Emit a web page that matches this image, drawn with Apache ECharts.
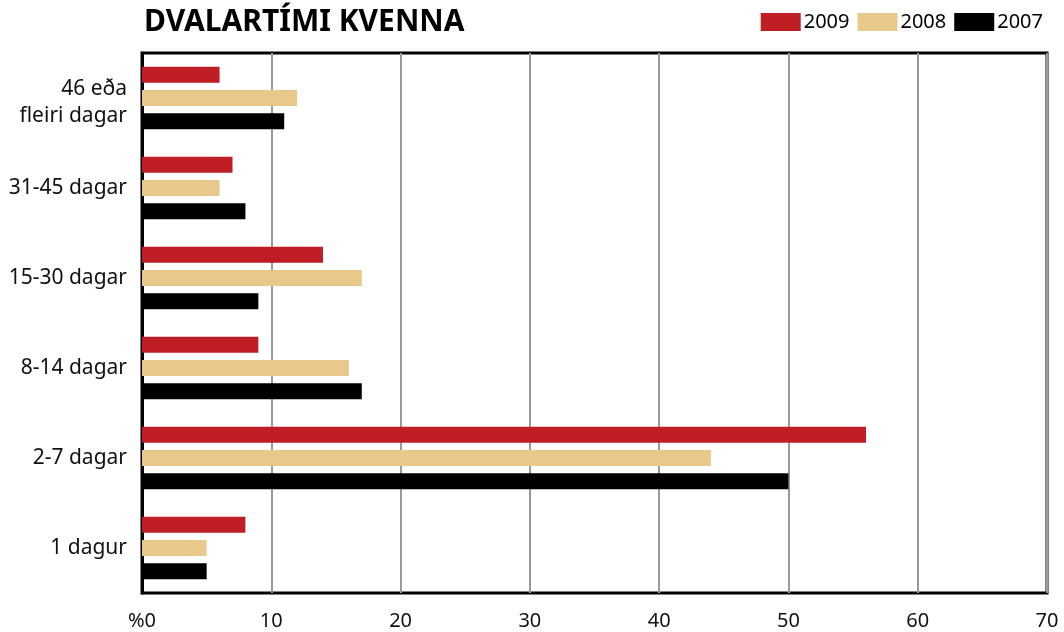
<!DOCTYPE html>
<html lang="is">
<head>
    <meta charset="UTF-8">
    <script src="https://cdn.jsdelivr.net/npm/echarts@6/dist/echarts.min.js"></script>
    <title>Dvalartími kvenna</title>
    <style>
        html, body { margin: 0; padding: 0; background: #fff; }
    </style>
</head>
<body>
<div id="main" style="width: 1064px;height:632px;"></div>

<script type="text/javascript">
    // flokkar, efst til neðst
    var categories = ['46 eða\nfleiri dagar', '31-45 dagar', '15-30 dagar', '8-14 dagar', '2-7 dagar', '1 dagur'];
    var years = ['2009', '2008', '2007'];
    var values2009 = [6, 7, 14, 9, 56, 8];
    var values2008 = [12, 6, 17, 16, 44, 5];
    var values2007 = [11, 8, 9, 17, 50, 5];
    var xTicks = [0, 10, 20, 30, 40, 50, 60, 70];

    var fontFamily = '"Noto Sans", "Open Sans", sans-serif';
    var colors = ['#be1e24', '#e9c98b', '#000000'];

    var myChart = echarts.init(document.getElementById('main'));

    function barSeries(name, data) {
        return {
            name: name,
            type: 'bar',
            data: data,
            barWidth: 16,
            barGap: '45%',
            silent: true
        };
    }

    var option = {
        animation: false,
        color: colors,
        title: {
            text: 'DVALARTÍMI KVENNA',
            left: 139,
            top: 2,
            textStyle: {
                fontFamily: fontFamily,
                fontWeight: 'bold',
                fontSize: 30,
                color: '#000'
            }
        },
        legend: {
            data: years,
            right: 16,
            top: 7,
            icon: 'rect',
            itemWidth: 40,
            itemHeight: 18,
            itemGap: 8,
            textStyle: {
                fontFamily: fontFamily,
                fontSize: 20,
                color: '#000',
                padding: [0, 0, 0, -2]
            }
        },
        grid: {
            left: 142,
            right: 17,
            top: 53,
            bottom: 39,
            show: true,
            borderColor: '#000',
            borderWidth: 3
        },
        xAxis: {
            type: 'value',
            min: 0,
            max: 70,
            interval: 10,
            axisLine: { show: false },
            axisTick: { show: false },
            splitLine: {
                lineStyle: { color: '#9a9a9e', width: 2 }
            },
            axisLabel: {
                margin: 18,
                fontFamily: fontFamily,
                fontSize: 20,
                color: '#111',
                formatter: function (v) {
                    return xTicks.indexOf(v) === 0 ? '%0' : String(v);
                }
            }
        },
        yAxis: {
            type: 'category',
            data: categories,
            inverse: true,
            axisLine: { lineStyle: { color: '#000', width: 3 } },
            axisTick: { show: false },
            splitLine: { show: false },
            axisLabel: {
                margin: 15,
                fontFamily: fontFamily,
                fontSize: 21,
                lineHeight: 27,
                color: '#111',
                align: 'right',
                formatter: function (v) {
                    return v.indexOf('\n') >= 0 ? '{two|' + v.split('\n').join('}\n{two|') + '}' : v;
                },
                rich: {
                    two: {
                        fontFamily: fontFamily,
                        fontSize: 21,
                        lineHeight: 27,
                        color: '#111',
                        align: 'right',
                        padding: [10, 0, 0, 0]
                    }
                }
            }
        },
        series: [
            barSeries(years[0], values2009),
            barSeries(years[1], values2008),
            barSeries(years[2], values2007)
        ]
    };

    myChart.setOption(option);
</script>
</body>
</html>
